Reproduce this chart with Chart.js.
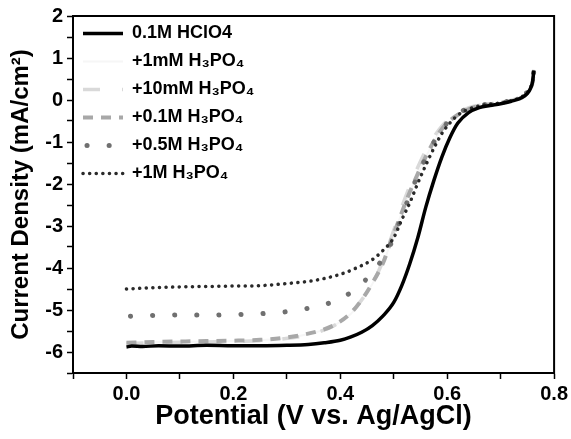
<!DOCTYPE html>
<html>
<head>
<meta charset="utf-8">
<script src="https://cdn.jsdelivr.net/npm/chart.js@4"></script>
<style>
  body { margin: 0; background: #fff; }
  #wrap { width: 571px; height: 439px; }
</style>
</head>
<body>
<div id="wrap"><canvas id="chartLsv"></canvas></div>
<script>
// series labels
const labels = [
  '0.1M HClO4',
  '+1mM H\u2083PO\u2084',
  '+10mM H\u2083PO\u2084',
  '+0.1M H\u2083PO\u2084',
  '+0.5M H\u2083PO\u2084',
  '+1M H\u2083PO\u2084'
];

// potential (V) / current density (mA/cm2)
const vHclo4 = [0.000, 0.010, 0.030, 0.060, 0.100, 0.150, 0.200, 0.250, 0.300, 0.340, 0.370, 0.400, 0.420, 0.440, 0.460, 0.480, 0.500, 0.515, 0.530, 0.545, 0.560, 0.575, 0.590, 0.605, 0.620, 0.640, 0.660, 0.680, 0.700, 0.720, 0.740, 0.750, 0.756, 0.760, 0.762];
const jHclo4 = [-5.88, -5.86, -5.87, -5.85, -5.86, -5.84, -5.85, -5.85, -5.84, -5.82, -5.78, -5.72, -5.64, -5.53, -5.37, -5.14, -4.82, -4.42, -3.90, -3.28, -2.55, -1.92, -1.36, -0.90, -0.55, -0.30, -0.18, -0.13, -0.09, -0.03, 0.06, 0.16, 0.28, 0.45, 0.70];

const v1mM = [0.000, 0.050, 0.100, 0.150, 0.200, 0.250, 0.290, 0.330, 0.360, 0.390, 0.420, 0.440, 0.460, 0.480, 0.495, 0.510, 0.525, 0.540, 0.555, 0.570, 0.585, 0.600, 0.620, 0.640, 0.660, 0.680, 0.700, 0.720, 0.740, 0.750, 0.756, 0.760, 0.762];
const j1mM = [-5.79, -5.77, -5.76, -5.75, -5.74, -5.72, -5.68, -5.60, -5.51, -5.36, -5.09, -4.78, -4.38, -3.90, -3.37, -2.86, -2.36, -1.91, -1.49, -1.11, -0.79, -0.56, -0.36, -0.22, -0.14, -0.10, -0.07, -0.02, 0.06, 0.16, 0.28, 0.45, 0.72];

const v10mM = [0.000, 0.050, 0.100, 0.150, 0.200, 0.250, 0.290, 0.330, 0.360, 0.390, 0.410, 0.430, 0.450, 0.470, 0.485, 0.500, 0.515, 0.530, 0.545, 0.560, 0.575, 0.590, 0.610, 0.630, 0.650, 0.670, 0.690, 0.710, 0.730, 0.745, 0.755, 0.760, 0.762];
const j10mM = [-5.80, -5.78, -5.77, -5.76, -5.75, -5.73, -5.69, -5.62, -5.52, -5.36, -5.18, -4.92, -4.58, -4.12, -3.65, -3.10, -2.55, -2.05, -1.60, -1.20, -0.88, -0.62, -0.38, -0.24, -0.15, -0.11, -0.08, -0.04, 0.03, 0.13, 0.25, 0.42, 0.72];

const v01M = [0.000, 0.050, 0.100, 0.150, 0.200, 0.250, 0.290, 0.330, 0.360, 0.390, 0.420, 0.440, 0.460, 0.480, 0.495, 0.510, 0.525, 0.540, 0.555, 0.570, 0.585, 0.600, 0.620, 0.640, 0.660, 0.680, 0.700, 0.720, 0.740, 0.750, 0.756, 0.760, 0.762];
const j01M = [-5.78, -5.76, -5.75, -5.74, -5.73, -5.71, -5.67, -5.59, -5.50, -5.35, -5.07, -4.76, -4.36, -3.88, -3.35, -2.85, -2.35, -1.90, -1.48, -1.10, -0.78, -0.55, -0.35, -0.22, -0.14, -0.10, -0.07, -0.02, 0.06, 0.16, 0.28, 0.45, 0.72];

const v05M = [0.000, 0.050, 0.100, 0.150, 0.200, 0.250, 0.300, 0.340, 0.380, 0.420, 0.450, 0.470, 0.490, 0.505, 0.520, 0.535, 0.550, 0.565, 0.580, 0.595, 0.610, 0.630, 0.650, 0.670, 0.690, 0.710, 0.730, 0.745, 0.755, 0.760, 0.762];
const j05M = [-5.15, -5.13, -5.12, -5.12, -5.11, -5.09, -5.04, -4.96, -4.83, -4.58, -4.25, -3.95, -3.55, -3.10, -2.60, -2.10, -1.65, -1.25, -0.90, -0.62, -0.42, -0.25, -0.16, -0.11, -0.08, -0.04, 0.04, 0.14, 0.26, 0.42, 0.70];

const v1M = [0.000, 0.050, 0.100, 0.150, 0.200, 0.250, 0.300, 0.350, 0.400, 0.430, 0.460, 0.480, 0.500, 0.515, 0.530, 0.545, 0.560, 0.575, 0.590, 0.605, 0.620, 0.640, 0.660, 0.680, 0.700, 0.720, 0.740, 0.750, 0.756, 0.760, 0.762];
const j1M = [-4.50, -4.47, -4.45, -4.44, -4.43, -4.42, -4.37, -4.30, -4.15, -4.00, -3.80, -3.58, -3.28, -2.85, -2.45, -1.98, -1.55, -1.15, -0.80, -0.55, -0.36, -0.22, -0.14, -0.10, -0.07, -0.02, 0.08, 0.18, 0.30, 0.48, 0.72];

const xTicksMin = -0.1, xTicksMax = 0.8;
const yTicksMin = -6.5, yTicksMax = 2;

function pts(v, j) {
  return v.map((x, i) => ({x: x, y: j[i]}));
}

const frame = {
  id: 'frame',
  afterDraw(chart) {
    const a = chart.chartArea;
    const ctx = chart.ctx;
    ctx.save();
    ctx.strokeStyle = '#000';
    ctx.lineWidth = 2;
    ctx.strokeRect(a.left, a.top, a.right - a.left, a.bottom - a.top);
    ctx.restore();
  }
};

const FONT = "'Liberation Sans', Arial, sans-serif";

// dataset 0 is drawn on top, the last one at the bottom
const datasets = [
  {label: labels[0], data: pts(vHclo4, jHclo4), borderColor: '#000', borderWidth: 3.5},
  {label: labels[5], data: pts(v1M, j1M), borderColor: '#2a2a2a', borderWidth: 3.5, borderDash: [0.1, 6.5], borderCapStyle: 'round'},
  {label: labels[4], data: pts(v05M, j05M), borderColor: '#707070', borderWidth: 5, borderDash: [0.1, 22], borderDashOffset: -4, borderCapStyle: 'round'},
  {label: labels[3], data: pts(v01M, j01M), borderColor: '#a8a8a8', borderWidth: 4, borderDash: [10, 8]},
  {label: labels[2], data: pts(v10mM, j10mM), borderColor: '#d9d9d9', borderWidth: 3.5, borderDash: [17, 22]},
  {label: labels[1], data: pts(v1mM, j1mM), borderColor: '#f6f6f6', borderWidth: 2}
];
const legendOrder = [0, 5, 4, 3, 2, 1];

new Chart(document.getElementById('chartLsv'), {
  type: 'line',
  data: {datasets: datasets},
  options: {
    responsive: true,
    maintainAspectRatio: false,
    animation: false,
    cubicInterpolationMode: 'monotone',
    elements: {point: {radius: 0}},
    layout: {padding: {top: 13, right: 16, left: 0, bottom: 0}},
    plugins: {
      legend: {
        position: 'chartArea',
        align: 'start',
        title: {display: true, text: ' ', padding: 0, font: {size: 12}},
        labels: {
          usePointStyle: true,
          pointStyle: 'line',
          pointStyleWidth: 40,
          padding: 10,
          color: '#000',
          font: {family: FONT, size: 18, weight: 'bold'},
          generateLabels(chart) {
            const items = Chart.defaults.plugins.legend.labels.generateLabels(chart);
            items.forEach(it => {
              const ds = chart.data.datasets[it.datasetIndex];
              it.pointStyle = 'line';
              it.strokeStyle = ds.borderColor;
              it.lineWidth = ds.borderWidth;
              it.lineDash = ds.borderDash || [];
              it.lineDashOffset = ds.borderDashOffset || 0;
              it.lineCap = ds.borderCapStyle || 'butt';
            });
            return items;
          },
          sort: (a, b) => legendOrder.indexOf(a.datasetIndex) - legendOrder.indexOf(b.datasetIndex)
        }
      },
      tooltip: {enabled: false}
    },
    scales: {
      x: {
        type: 'linear',
        min: xTicksMin,
        max: xTicksMax,
        afterFit: s => { s.height = 66; },
        border: {display: true, color: '#000', width: 2},
        grid: {display: true, drawOnChartArea: false, drawTicks: true, tickLength: 6, tickColor: '#000', tickWidth: 1.5},
        ticks: {
          stepSize: 0.1,
          padding: 3,
          color: '#000',
          maxRotation: 0,
          autoSkip: false,
          font: {family: FONT, size: 20, weight: 'bold'},
          callback: v => (v > -0.01 && Math.round(v * 10) % 2 === 0) ? v.toFixed(1) : ''
        },
        title: {
          display: true,
          text: 'Potential (V vs. Ag/AgCl)',
          color: '#000',
          padding: {top: 0, bottom: 6},
          font: {family: FONT, size: 27, weight: 'bold'}
        }
      },
      y: {
        type: 'linear',
        min: yTicksMin,
        max: yTicksMax,
        afterFit: s => { s.width = 73; },
        border: {display: true, color: '#000', width: 2},
        grid: {display: true, drawOnChartArea: false, drawTicks: true, tickLength: 6, tickColor: '#000', tickWidth: 1.5},
        ticks: {
          stepSize: 0.5,
          padding: 4,
          color: '#000',
          autoSkip: false,
          font: {family: FONT, size: 20, weight: 'bold'},
          callback: v => Number.isInteger(v) ? String(v) : ''
        },
        title: {
          display: true,
          text: 'Current Density (mA/cm\u00b2)',
          color: '#000',
          padding: {top: 7, bottom: 0},
          font: {family: FONT, size: 24, weight: 'bold'}
        }
      }
    }
  },
  plugins: [frame]
});
</script>
</body>
</html>
